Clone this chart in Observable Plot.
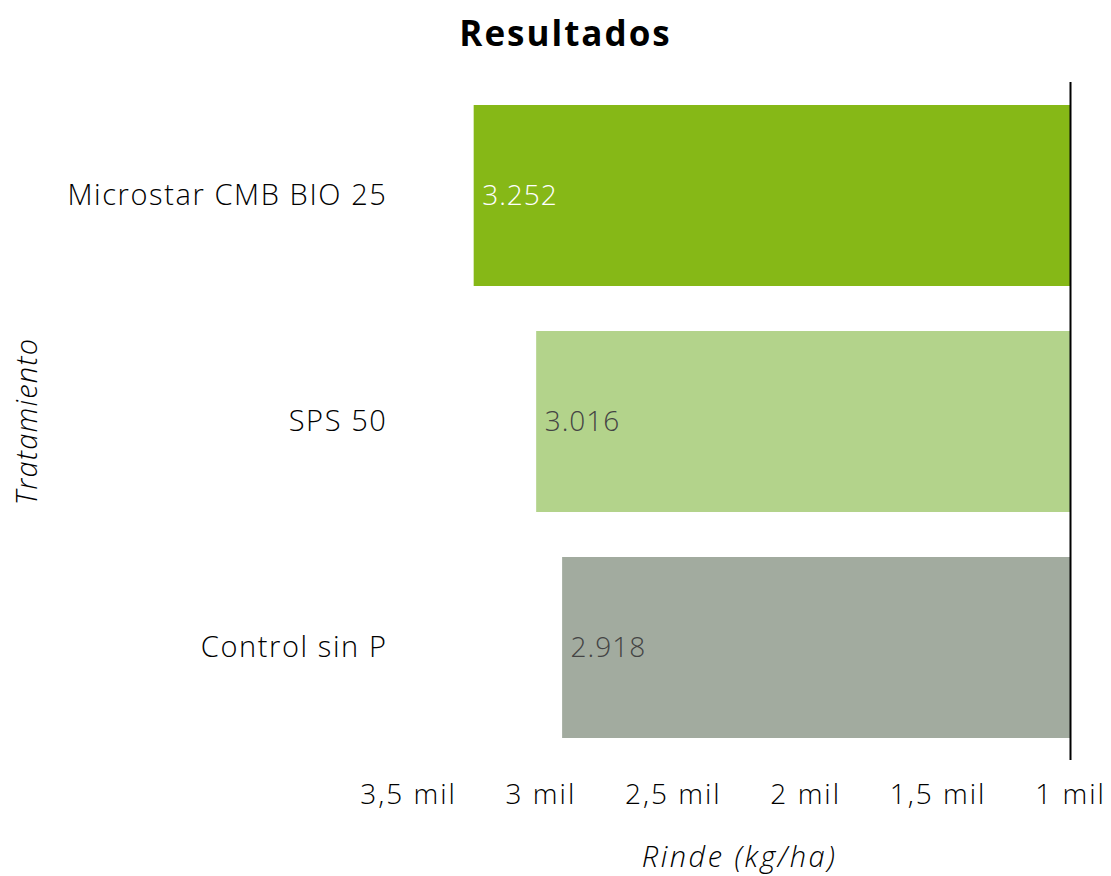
<!DOCTYPE html>
<html>
<head>
<meta charset="utf-8">
<script src="https://cdn.jsdelivr.net/npm/d3@7"></script>
<script src="https://cdn.jsdelivr.net/npm/@observablehq/plot@0.6"></script>
<style>
  html, body { margin: 0; padding: 0; background: #fff; }
  body { width: 1111px; font-family: "Open Sans", Lato, sans-serif; }
  #title { height: 66px; line-height: 66px; text-align: center; font-size: 35px; font-weight: 700; color: #000; padding-left: 20px; letter-spacing: 2px; }
  svg [aria-label="y-axis label"] text, svg [aria-label="x-axis label"] text { font-style: italic; }
  svg [aria-label="y-axis tick label"] text { letter-spacing: 1.6px; }
  svg [aria-label="x-axis tick label"] text { letter-spacing: 2px; }
  svg [aria-label="x-axis label"] text { letter-spacing: 2.5px; }
  svg [aria-label="y-axis label"] text { letter-spacing: 1.2px; }
  svg [aria-label="text"] text { letter-spacing: 1px; }
</style>
</head>
<body>
<div id="title">Resultados</div>
<div id="chart"></div>
<script>
const categories = ["Microstar CMB BIO 25", "SPS 50", "Control sin P"];
const values = [3252, 3016, 2918];
const colors = ["#86b817", "#b3d38b", "#a2ab9f"];
const labelColors = ["#ffffff", "#444444", "#444444"];
const xTicks = [3500, 3000, 2500, 2000, 1500, 1000];

const data = categories.map((c, i) => ({cat: c, value: values[i], color: colors[i], lc: labelColors[i]}));

const fmtTick = d => (d / 1000).toString().replace(".", ",") + " mil";
const fmtVal = d => d3.format(",")(d).replace(/,/g, ".");

const chart = Plot.plot({
  width: 1111,
  height: 810,
  marginTop: 16,
  marginBottom: 116,
  marginLeft: 408,
  marginRight: 41,
  style: { fontFamily: "'Open Sans', Lato, sans-serif", fontSize: "27px", color: "#000", background: "#fff" },
  x: { domain: [3500, 1000], label: null },
  y: { domain: categories, paddingInner: 0.2, paddingOuter: 0.1, label: null },
  marks: [
    Plot.barX(data, { y: "cat", x1: 1000, x2: "value", fill: d => d.color }),
    Plot.ruleX([1000], { stroke: "#000", strokeWidth: 2 }),
    Plot.text(data, { y: "cat", x: "value", text: d => fmtVal(d.value), fill: d => d.lc, textAnchor: "start", dx: 8, fontSize: 28, fontWeight: 300 }),
    Plot.axisX({ ticks: xTicks, tickFormat: fmtTick, tickSize: 0, tickPadding: 24, fontSize: 28, fontWeight: 300,
      label: "Rinde (kg/ha)", labelAnchor: "center", labelArrow: "none", labelOffset: 106 }),
    Plot.axisY({ tickSize: 0, tickPadding: 21, fontSize: 29, fontWeight: 300,
      label: "Tratamiento", labelAnchor: "center", labelArrow: "none", labelOffset: 392 })
  ]
});
chart.querySelector('[aria-label="x-axis label"] text')?.setAttribute("font-size", "29");
chart.querySelector('[aria-label="y-axis label"] text')?.setAttribute("font-size", "29");
document.getElementById("chart").appendChild(chart);
</script>
</body>
</html>
